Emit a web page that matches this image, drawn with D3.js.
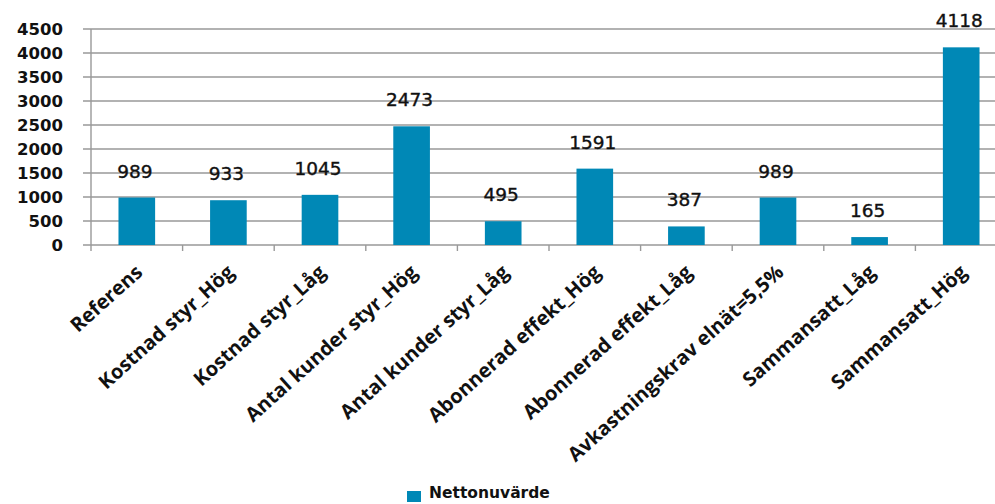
<!DOCTYPE html>
<html><head><meta charset="utf-8">
<script src="https://cdn.jsdelivr.net/npm/d3@7"></script>
<style>html,body{margin:0;padding:0;background:#fff;}svg{display:block;}</style>
</head><body>
<svg id="chart" width="995" height="504"></svg>
<script>
const categories = ["Referens","Kostnad styr_Hög","Kostnad styr_Låg","Antal kunder styr_Hög","Antal kunder styr_Låg","Abonnerad effekt_Hög","Abonnerad effekt_Låg","Avkastningskrav elnät=5,5%","Sammansatt_Låg","Sammansatt_Hög"];
const values = [989,933,1045,2473,495,1591,387,989,165,4118];
const yTicks = [0,500,1000,1500,2000,2500,3000,3500,4000,4500];
const seriesName = "Nettonuvärde";

const svg = d3.select("#chart");
const x = d3.scaleBand().domain(categories).range([91, 1007]).paddingInner(0.6).paddingOuter(0.3);
const y = d3.scaleLinear().domain([0, 4500]).range([245, 29]);
const gridColor = "#999";
const barColor = "#0088b6";

// gridlines
svg.append("g").selectAll("line").data(yTicks).join("line")
  .attr("x1", 83).attr("x2", 1000)
  .attr("y1", d => y(d)).attr("y2", d => y(d))
  .attr("stroke", gridColor).attr("stroke-width", 1.4);

// y axis line
svg.append("line").attr("x1", 91).attr("x2", 91).attr("y1", y(4500)).attr("y2", y(0))
  .attr("stroke", gridColor).attr("stroke-width", 1.4);

// x tick marks at band boundaries
const step = x.step();
const bounds = d3.range(categories.length).map(i => x.range()[0] + i * step);
svg.append("g").selectAll("line").data(bounds).join("line")
  .attr("x1", d => d).attr("x2", d => d).attr("y1", y(0)).attr("y2", y(0) + 6)
  .attr("stroke", gridColor).attr("stroke-width", 1.4);

// y tick labels
svg.append("g").selectAll("text").data(yTicks).join("text")
  .attr("x", 63).attr("y", d => y(d)).attr("dy", "0.36em")
  .attr("text-anchor", "end")
  .attr("font-family", "DejaVu Sans").attr("font-weight", "bold").attr("font-size", 16.5)
  .attr("fill", "#111").text(d => d);

// bars
svg.append("g").selectAll("rect").data(values).join("rect")
  .attr("x", (d, i) => x(categories[i])).attr("width", x.bandwidth())
  .attr("y", d => y(d)).attr("height", d => y(0) - y(d))
  .attr("fill", barColor);

// value labels
svg.append("g").selectAll("text").data(values).join("text")
  .attr("x", (d, i) => x(categories[i]) + x.bandwidth() / 2 - 2)
  .attr("y", d => y(d) - 20)
  .attr("text-anchor", "middle")
  .attr("font-family", "DejaVu Sans").attr("font-size", 18.5)
  .attr("fill", "#111").attr("stroke", "#111").attr("stroke-width", 0.4)
  .text(d => d);

// category labels
svg.append("g").selectAll("text").data(categories).join("text")
  .attr("transform", d => `translate(${x(d) + x.bandwidth() / 2 + 7},${y(0) + 29}) rotate(-42)`)
  .attr("text-anchor", "end")
  .attr("font-family", "Open Sans").attr("font-weight", 700).attr("font-size", 20)
  .attr("fill", "#111").text(d => d);

// legend
svg.append("rect").attr("x", 407).attr("y", 491).attr("width", 14).attr("height", 11).attr("fill", barColor);
svg.append("text").attr("x", 429).attr("y", 497.5)
  .attr("font-family", "DejaVu Sans").attr("font-weight", "bold").attr("font-size", 15.5)
  .attr("fill", "#111").text(seriesName);
</script>
</body></html>
